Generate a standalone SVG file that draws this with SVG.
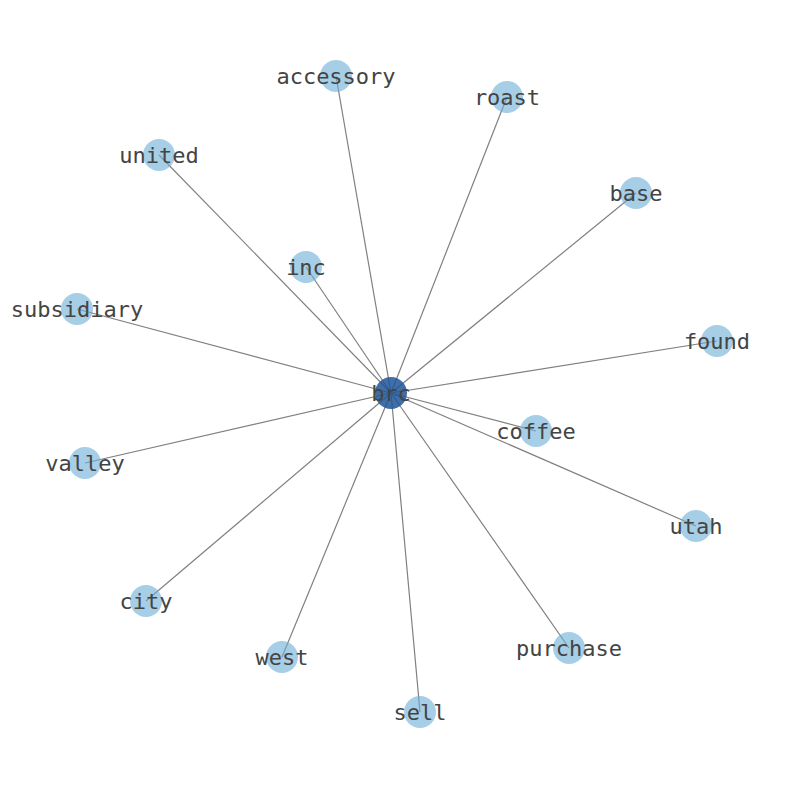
<svg xmlns="http://www.w3.org/2000/svg" width="794" height="790" viewBox="0 0 794 790">
<style>
.e{stroke:#808080;stroke-width:1.2;fill:none}
.n{fill:#6baed6;fill-opacity:0.6}
.c{fill:#1f5597;fill-opacity:0.85}
text{font-family:"DejaVu Sans Mono",monospace;font-size:22px;fill:#444;text-anchor:middle;dominant-baseline:central}
</style>
<rect width="794" height="790" fill="#fff"/>
<g id="edges">
<line class="e" x1="391" y1="393" x2="336" y2="76"/>
<line class="e" x1="391" y1="393" x2="507" y2="97"/>
<line class="e" x1="391" y1="393" x2="159" y2="155"/>
<line class="e" x1="391" y1="393" x2="636" y2="193"/>
<line class="e" x1="391" y1="393" x2="306" y2="267"/>
<line class="e" x1="391" y1="393" x2="77" y2="309"/>
<line class="e" x1="391" y1="393" x2="717" y2="341"/>
<line class="e" x1="391" y1="393" x2="536" y2="431"/>
<line class="e" x1="391" y1="393" x2="85" y2="463"/>
<line class="e" x1="391" y1="393" x2="696" y2="526"/>
<line class="e" x1="391" y1="393" x2="146" y2="601"/>
<line class="e" x1="391" y1="393" x2="569" y2="648"/>
<line class="e" x1="391" y1="393" x2="282" y2="657"/>
<line class="e" x1="391" y1="393" x2="420" y2="712"/>
</g>
<g id="brc"><circle class="c" cx="391" cy="393" r="16"/><text x="391" y="393">brc</text></g>
<g id="accessory"><circle class="n" cx="336" cy="76" r="16"/><text x="336" y="76">accessory</text></g>
<g id="roast"><circle class="n" cx="507" cy="97" r="16"/><text x="507" y="97">roast</text></g>
<g id="united"><circle class="n" cx="159" cy="155" r="16"/><text x="159" y="155">united</text></g>
<g id="base"><circle class="n" cx="636" cy="193" r="16"/><text x="636" y="193">base</text></g>
<g id="inc"><circle class="n" cx="306" cy="267" r="16"/><text x="306" y="267">inc</text></g>
<g id="subsidiary"><circle class="n" cx="77" cy="309" r="16"/><text x="77" y="309">subsidiary</text></g>
<g id="found"><circle class="n" cx="717" cy="341" r="16"/><text x="717" y="341">found</text></g>
<g id="coffee"><circle class="n" cx="536" cy="431" r="16"/><text x="536" y="431">coffee</text></g>
<g id="valley"><circle class="n" cx="85" cy="463" r="16"/><text x="85" y="463">valley</text></g>
<g id="utah"><circle class="n" cx="696" cy="526" r="16"/><text x="696" y="526">utah</text></g>
<g id="city"><circle class="n" cx="146" cy="601" r="16"/><text x="146" y="601">city</text></g>
<g id="purchase"><circle class="n" cx="569" cy="648" r="16"/><text x="569" y="648">purchase</text></g>
<g id="west"><circle class="n" cx="282" cy="657" r="16"/><text x="282" y="657">west</text></g>
<g id="sell"><circle class="n" cx="420" cy="712" r="16"/><text x="420" y="712">sell</text></g>
</svg>
